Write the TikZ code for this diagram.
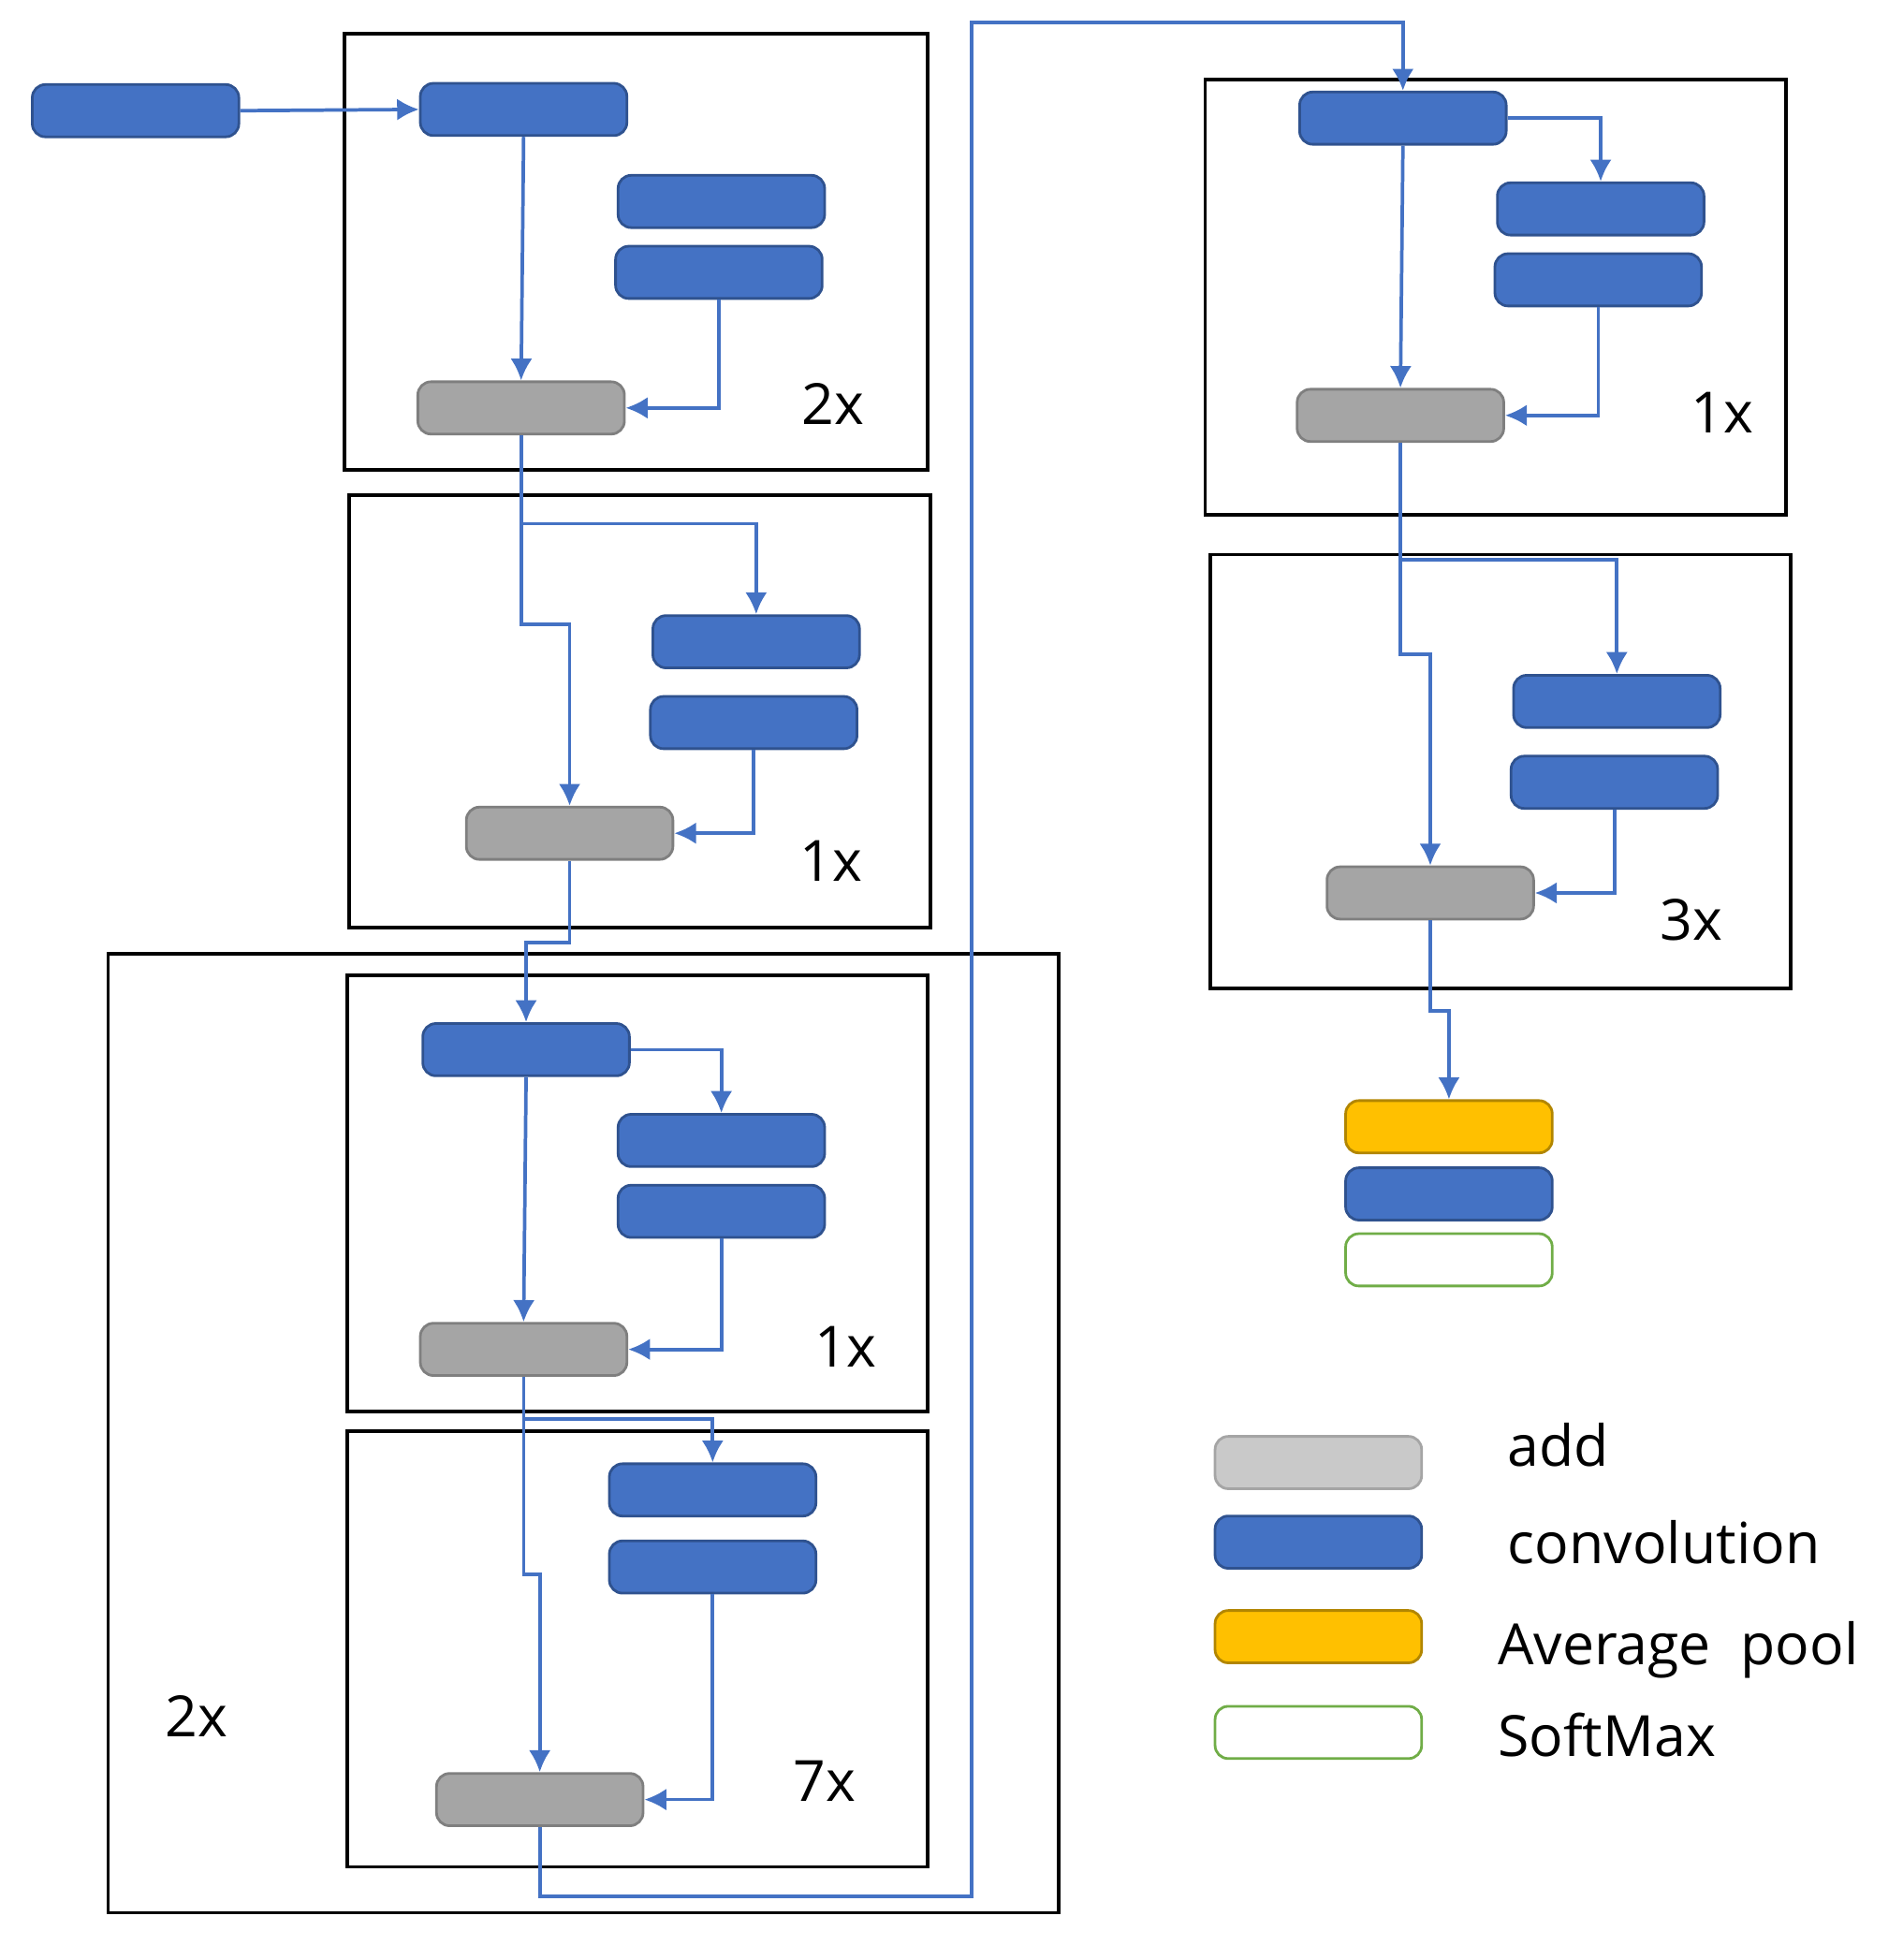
\documentclass[tikz,border=0pt]{standalone}
\usepackage{fontspec}
\setmainfont{Open Sans}
\usetikzlibrary{arrows.meta}
\definecolor{cb}{HTML}{4472C4}
\definecolor{cbd}{HTML}{2F528F}
\definecolor{ga}{HTML}{A5A5A5}
\definecolor{gad}{HTML}{7F7F7F}
\definecolor{gl}{HTML}{C9C9C9}
\definecolor{og}{HTML}{FFC000}
\definecolor{gr}{HTML}{70AD47}
\begin{document}
\begin{tikzpicture}[x=0.01cm,y=-0.01cm,
 blk/.style={rounded corners=3pt,minimum width=1.66cm,minimum height=0.42cm,inner sep=0pt,line width=0.6pt},
 conv/.style={blk,fill=cb,draw=cbd},
 add/.style={blk,fill=ga,draw=gad},
 box/.style={draw=black,line width=0.8pt},
 lab/.style={font=\fontsize{13}{15}\selectfont},
 ar/.style={draw=cb,line width=0.8pt,-{Latex[length=5pt,width=5pt]}}]
\useasboundingbox (0,0) rectangle (1530,1576);
% boxes
\draw[box] (277,27) rectangle (746,378);
\draw[box] (281,398) rectangle (748,746);
\draw[box] (87,767) rectangle (851,1538);
\draw[box] (279,784) rectangle (746,1135);
\draw[box] (279,1151) rectangle (746,1501);
\draw[box] (969,64) rectangle (1436,414);
\draw[box] (973,446) rectangle (1440,795);
\node[lab] (l1) at (670,325) {2x};
\node[lab] (l2) at (668,692) {1x};
\node[lab] (l3) at (158,1380) {2x};
\node[lab] (l4) at (680,1083) {1x};
\node[lab] (l5) at (663,1432) {7x};
\node[lab] (l6) at (1385,332) {1x};
\node[lab] (l7) at (1360,740) {3x};
% nodes
\node[conv] (in) at (109,89) {};
\node[conv] (c1) at (421,88) {};
\node[conv] (c1a) at (580,162) {};
\node[conv] (c1b) at (578,219) {};
\node[add] (a1) at (419,328) {};
\node[conv] (c2a) at (608,516) {};
\node[conv] (c2b) at (606,581) {};
\node[add] (a2) at (458,670) {};
\node[conv] (c3) at (423,844) {};
\node[conv] (c3a) at (580,917) {};
\node[conv] (c3b) at (580,974) {};
\node[add] (a3) at (421,1085) {};
\node[conv] (c4a) at (573,1198) {};
\node[conv] (c4b) at (573,1260) {};
\node[add] (a4) at (434,1447) {};
\node[conv] (c5) at (1128,95) {};
\node[conv] (c5a) at (1287,168) {};
\node[conv] (c5b) at (1285,225) {};
\node[add] (a5) at (1126,334) {};
\node[conv] (c6a) at (1300,564) {};
\node[conv] (c6b) at (1298,629) {};
\node[add] (a6) at (1150,718) {};
\node[blk,fill=og,draw=og!70!black] (pool) at (1165,906) {};
\node[conv] (conv) at (1165,960) {};
\node[blk,fill=white,draw=gr] (soft) at (1165,1013) {};
% legend
\node[blk,fill=gl,draw=ga] (Ladd) at (1060,1176) {};
\node[conv] (Lconv) at (1060,1240) {};
\node[blk,fill=og,draw=og!70!black] (Lpool) at (1060,1316) {};
\node[blk,fill=white,draw=gr] (Lsoft) at (1060,1393) {};
\node[lab,anchor=west] (t1) at (1200,1162) {add};
\node[lab,anchor=west] (t2) at (1200,1240) {convolution};
\node[lab,anchor=west] (t3) at (1192,1327) {Average\ \ pool};
\node[lab,anchor=west] (t4) at (1192,1395) {SoftMax};
% connectors
\draw[ar] (in.east) -- (c1.west);
\draw[ar] (c1.south) -- (a1.north);
\draw[ar] (c1b.south) |- (a1.east);
\draw[ar] (a1.south) -- (419,421) -| (c2a.north);
\draw[ar] (a1.south) -- (419,502) -| (a2.north);
\draw[ar] (c2b.south) |- (a2.east);
\draw[ar] (a2.south) -- (458,758) -| (c3.north);
\draw[ar] (c3.east) -| (c3a.north);
\draw[ar] (c3.south) -- (a3.north);
\draw[ar] (c3b.south) |- (a3.east);
\draw[ar] (a3.south) -- (421,1141) -| (c4a.north);
\draw[ar] (a3.south) -- (421,1266) -| (a4.north);
\draw[ar] (c4b.south) |- (a4.east);
\draw[ar] (a4.south) -- (434,1525) -- (781,1525) -- (781,18) -| (c5.north);
\draw[ar] (c5.east) -| (c5a.north);
\draw[ar] (c5.south) -- (a5.north);
\draw[ar] (c5b.south) |- (a5.east);
\draw[ar] (a5.south) -- (1126,450) -| (c6a.north);
\draw[ar] (a5.south) -- (1126,526) -| (a6.north);
\draw[ar] (c6b.south) |- (a6.east);
\draw[ar] (a6.south) -- (1150,813) -| (pool.north);
\end{tikzpicture}
\end{document}
